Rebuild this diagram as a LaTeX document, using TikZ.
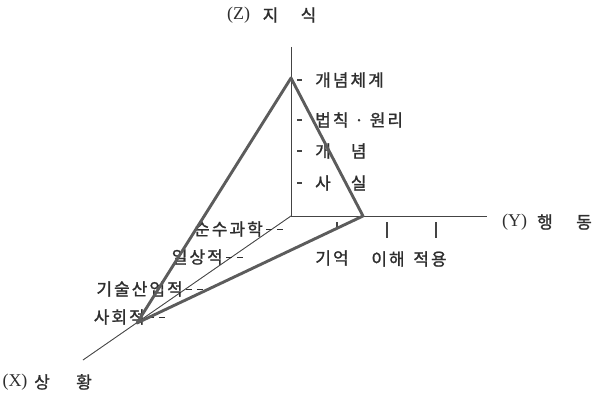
\documentclass[tikz,border=0pt]{standalone}
\usepackage{fontspec}
\setmainfont{Liberation Serif}
\newfontfamily\kr[LetterSpace=12,FakeBold=1.2]{Noto Sans CJK KR}
\definecolor{ink}{HTML}{2E2E2E}
\definecolor{axisc}{HTML}{444444}
\definecolor{tric}{HTML}{5C5C5C}
\newcommand{\xdash}{\kern3pt\rule[5pt]{6pt}{1.2pt}\kern5pt\rule[5pt]{6pt}{1.2pt}}
\tikzset{
  axisline/.style={draw=axisc, line width=0.9pt},
  tickline/.style={draw=axisc, line width=1.2pt},
  triline/.style={draw=tric, line width=2.9pt, line join=round, line cap=round},
  kl/.style={inner sep=0pt, text=ink, font=\kr\fontsize{17}{17}\selectfont, text height=14pt, text depth=1.2pt},
  ll/.style={inner sep=0pt, text=ink, font=\fontsize{18}{18}\selectfont},
}
\begin{document}
\begin{tikzpicture}[x=1pt,y=-1pt]
\useasboundingbox (0,0) rectangle (599,406);
% axes
\coordinate (O) at (291,216);
\coordinate (Ztop) at (291,47);
\coordinate (Yend) at (487,216);
\coordinate (Xend) at (83,360);
\draw[axisline] (Ztop) -- (O) -- (Yend);
\draw[axisline] (O) -- (Xend);
% axis titles
\node[ll] (zx) at (238.5,15) {(Z)};
\node[kl] (zji) at (270.5,15) {지};
\node[kl] (zsik) at (308.5,15) {식};
\node[ll] (yx) at (514.5,222) {(Y)};
\node[kl] (yh) at (545,222) {행};
\node[kl] (yd) at (584,222) {동};
\node[ll] (xx) at (15,382) {(X)};
\node[kl] (xs) at (42,382) {상};
\node[kl] (xh) at (84,382) {황};
% Z ticks and labels
\draw[tickline] (297,80) -- (302,80);
\draw[tickline] (297,120) -- (302,120);
\draw[tickline] (297,151) -- (302,151);
\draw[tickline] (297,183) -- (302,183);
\node[kl,anchor=west] (z1) at (315,80) {개념체계};
\node[kl,anchor=west] (z2) at (315,120) {법칙 · 원리};
\node[kl,anchor=west] (z3) at (315,151) {개\hspace{20pt}념};
\node[kl,anchor=west] (z4) at (315,183) {사\hspace{20pt}실};
% Y ticks and labels
\draw[tickline] (337,222) -- (337,229);
\draw[tickline] (387,222) -- (387,238);
\draw[tickline] (436,222) -- (436,238);
\node[kl] (y1) at (332,258) {기억};
\node[kl] (y2) at (388,259) {이해};
\node[kl] (y3) at (430,259) {적용};
% X labels
\node[kl,anchor=east] (x1) at (283,229) {순수과학\xdash};
\node[kl,anchor=east] (x2) at (243,257) {일상적\xdash};
\node[kl,anchor=east] (x3) at (203,289) {기술산업적\xdash};
\node[kl,anchor=east] (x4) at (165,317) {사회적\xdash};
% triangle
\coordinate (A) at (291,78);
\coordinate (B) at (363,216);
\coordinate (C) at (137,323);
\draw[triline] (A) -- (B) -- (C) -- cycle;
\end{tikzpicture}
\end{document}
